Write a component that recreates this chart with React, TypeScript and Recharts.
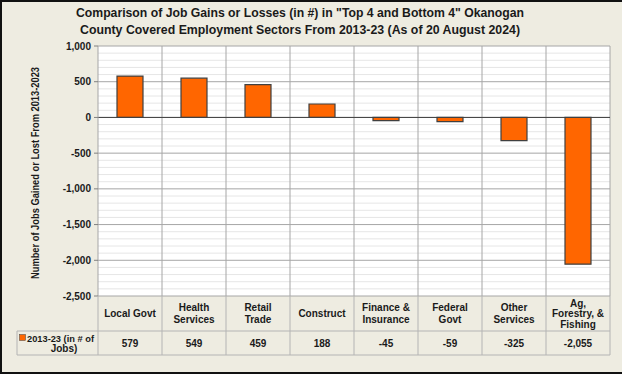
import React from 'react';
import { BarChart, Bar, XAxis, YAxis, CartesianGrid, ReferenceLine, Label } from 'recharts';

const categoryLabels = [
  'Local Govt',
  'Health\nServices',
  'Retail\nTrade',
  'Construct',
  'Finance &\nInsurance',
  'Federal\nGovt',
  'Other\nServices',
  'Ag,\nForestry, &\nFishing',
];
const jobChanges = [579, 549, 459, 188, -45, -59, -325, -2055];
const majorTicks = [1000, 500, 0, -500, -1000, -1500, -2000, -2500];
const seriesName = ['2013-23 (in # of', 'Jobs)'];

const titleLines = [
  'Comparison of Job Gains or Losses (in #) in "Top 4 and Bottom 4" Okanogan',
  'County Covered Employment Sectors From 2013-23 (As of 20 August  2024)',
];
const yTitle = 'Number of Jobs Gained or Lost From 2013-2023';

// minor gridlines every 100 between the major ticks
const minorTicks: number[] = [];
for (let i = 0; i < majorTicks.length - 1; i++) {
  for (let k = 1; k < 5; k++) minorTicks.push(majorTicks[i] - k * 100);
}

const data = categoryLabels.map((c, i) => ({ name: c, value: jobChanges[i] }));

const W = 622;
const H = 374;
const M = { top: 46, right: 12, bottom: 19, left: 18 };
const Y_AXIS_W = 80;
const X_AXIS_H = 59;
const CELL_W = (W - M.left - Y_AXIS_W - M.right) / categoryLabels.length;
const FONT = '"Liberation Sans", Arial, sans-serif';
const TEXT = '#1a1a1a';
const LINE = '#b4b4b4';
const fmt = (v: number) => v.toLocaleString('en-US');
const yMax = majorTicks[0];
const yMin = majorTicks[majorTicks.length - 1];

const TableTick = (props: any) => {
  const { x, y, index } = props;
  const half = CELL_W / 2;
  const mid = y + 35;
  const bot = y + X_AXIS_H;
  const lines = categoryLabels[index].split('\n');
  const lh = lines.length > 2 ? 10.5 : 11.5;
  const first = y + 17.5 - ((lines.length - 1) * lh) / 2 + 3.5;
  return (
    <g fontFamily={FONT} fontWeight="bold" fontSize={10} fill={TEXT}>
      {index === 0 && (
        <g>
          <line x1={x - half} y1={y} x2={x - half} y2={bot} stroke={LINE} />
          <line x1={17} y1={mid} x2={x - half} y2={mid} stroke={LINE} />
          <line x1={17} y1={bot} x2={x - half} y2={bot} stroke={LINE} />
          <line x1={17} y1={mid} x2={17} y2={bot} stroke={LINE} />
          <rect x={19.5} y={mid + 3.5} width={6} height={6} fill="#FF6600" stroke="#404040" strokeWidth={0.5} />
          <text x={27} y={mid + 10.5} fill={TEXT} fontSize={9.5} textLength={67} lengthAdjust="spacingAndGlyphs">
            {seriesName[0]}
          </text>
          <text x={64} y={mid + 21} textAnchor="middle" fill={TEXT}>{seriesName[1]}</text>
        </g>
      )}
      <line x1={x + half} y1={y} x2={x + half} y2={bot} stroke={LINE} />
      <line x1={x - half} y1={mid} x2={x + half} y2={mid} stroke={LINE} />
      <line x1={x - half} y1={bot} x2={x + half} y2={bot} stroke={LINE} />
      <text textAnchor="middle" fill={TEXT}>
        {lines.map((l, i) => (
          <tspan key={i} x={x} y={first + i * lh}>{l}</tspan>
        ))}
      </text>
      <text x={x} y={mid + 15.5} textAnchor="middle" fill={TEXT}>{fmt(jobChanges[index])}</text>
    </g>
  );
};

export default function App() {
  return (
    <div
      style={{
        position: 'absolute',
        left: 0,
        top: 0,
        width: W,
        height: H,
        background: '#EEECE1',
        overflow: 'hidden',
      }}
    >
      <div style={{ position: 'absolute', left: 0, top: 0, width: W, height: H, boxSizing: 'border-box', borderLeft: '2px solid #111', borderTop: '2px solid #111', borderBottom: '2px solid #111' }} />
      <svg width={W} height={44} style={{ position: 'absolute', left: 0, top: 0 }}>
        {titleLines.map((t, i) => (
          <text
            key={i}
            x={300}
            y={17 + i * 17}
            textAnchor="middle"
            fontFamily={FONT}
            fontWeight="bold"
            fontSize={12.5}
            fill={TEXT}
            textLength={i === 0 ? 448 : 440}
            lengthAdjust="spacingAndGlyphs"
          >
            {t}
          </text>
        ))}
      </svg>
      <div style={{ position: 'absolute', left: 0, top: 0 }}>
        <BarChart width={W} height={H} data={data} margin={M}>
          <CartesianGrid
            fill="#FFFFFF"
            vertical={false}
            stroke="#e6e6e6"
            horizontalCoordinatesGenerator={({ offset }: any) =>
              minorTicks.map((v) => offset.top + (offset.height * (yMax - v)) / (yMax - yMin))
            }
          />
          <CartesianGrid
            stroke="#a6a6a6"
            verticalCoordinatesGenerator={({ offset }: any) =>
              categoryLabels.map((_, i) => offset.left + (offset.width * (i + 1)) / categoryLabels.length)
            }
          />
          <XAxis
            dataKey="name"
            height={X_AXIS_H}
            axisLine={false}
            tickLine={false}
            tickSize={0}
            tickMargin={0}
            interval={0}
            tick={<TableTick />}
          />
          <YAxis
            width={Y_AXIS_W}
            domain={[yMin, yMax]}
            ticks={majorTicks}
            interval={0}
            tickFormatter={fmt}
            tickSize={4}
            tickMargin={3}
            axisLine={{ stroke: '#a6a6a6' }}
            tickLine={{ stroke: '#808080' }}
            tick={{ fontFamily: FONT, fontWeight: 'bold', fontSize: 10, fill: TEXT }}
          >
            <Label
              content={({ viewBox }: any) => {
                const cx = viewBox.x + 17;
                const cy = viewBox.y + viewBox.height / 2 + 2;
                return (
                  <text
                    x={cx}
                    y={cy}
                    transform={`rotate(-90 ${cx} ${cy})`}
                    textAnchor="middle"
                    dominantBaseline="central"
                    fontFamily={FONT}
                    fontWeight="bold"
                    fontSize={10}
                    fill={TEXT}
                    textLength={212}
                    lengthAdjust="spacingAndGlyphs"
                  >
                    {yTitle}
                  </text>
                );
              }}
            />
          </YAxis>
          <ReferenceLine y={0} stroke="#404040" />
          <Bar dataKey="value" fill="#FF6600" stroke="#404040" strokeWidth={1.2} barSize={26} isAnimationActive={false} />
        </BarChart>
      </div>
    </div>
  );
}
